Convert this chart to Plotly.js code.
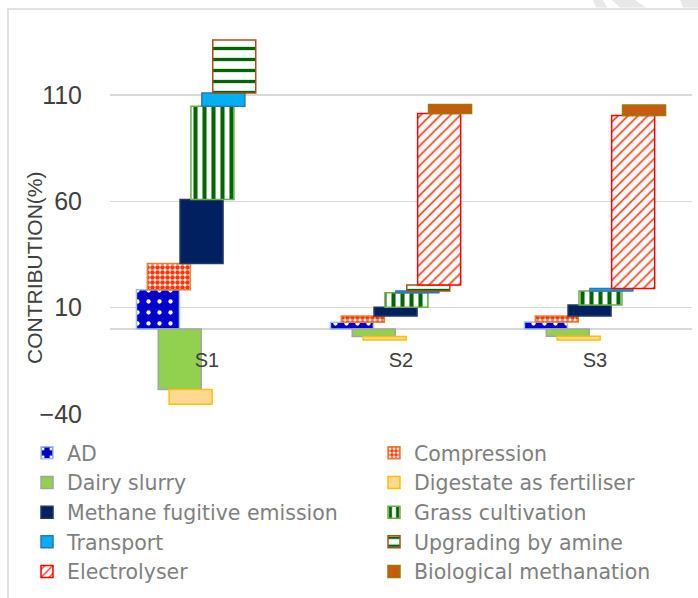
<!DOCTYPE html>
<html><head><meta charset="utf-8">
<script src="https://cdn.plot.ly/plotly-3.0.1.min.js"></script>
<style>html,body{margin:0;padding:0;background:#fff}#chart{width:698px;height:598px}</style>
</head><body><div id="chart"></div>
<script>
// ---- data ----
const categories = ['S1', 'S2', 'S3'];
const seriesNames = ['AD', 'Compression', 'Dairy slurry', 'Digestate as fertiliser',
  'Methane fugitive emission', 'Grass cultivation', 'Transport', 'Upgrading by amine',
  'Electrolyser', 'Biological methanation'];
const AD = [18.5, 3.2, 3.3];
const Compression = [12.3, 2.9, 2.8];
const DairySlurry = [-28.5, -3.5, -3.4];
const Digestate = [-6.9, -1.7, -1.8];
const MethaneFugitive = [30.1, 4.1, 5.2];
const GrassCultivation = [43.9, 6.8, 6.6];
const Transport = [6.3, 0.9, 1.1];
const UpgradingAmine = [24.9, 2.8, 0];
const Electrolyser = [0, 80.7, 81.4];
const BioMethanation = [0, 4.2, 5.0];
const seriesValues = [AD, Compression, DairySlurry, Digestate, MethaneFugitive,
  GrassCultivation, Transport, UpgradingAmine, Electrolyser, BioMethanation];
const yTickStart = -40, yTickStep = 50;

// ---- styles ----
const styles = [
  {color: '#0000cc', line: '#9dc3e6', pattern: {shape: '.', bgcolor: '#0000cc', fgcolor: '#ffffff', size: 11, solidity: 0.12}},
  {color: '#ff3300', line: '#ed7d31', pattern: {shape: '.', bgcolor: '#ffffff', fgcolor: '#ff3300', size: 5, solidity: 0.65}},
  {color: '#92d050', line: '#a5a5a5'},
  {color: '#ffd891', line: '#ffc000'},
  {color: '#002060', line: '#203864'},
  {color: '#006600', line: '#70ad47', pattern: {shape: '|', bgcolor: '#ffffff', fgcolor: '#006600', size: 9, solidity: 0.45}},
  {color: '#00b0f0', line: '#2e75b6'},
  {color: '#006600', line: '#a5511c', pattern: {shape: '-', bgcolor: '#ffffff', fgcolor: '#006600', size: 11, solidity: 0.3}},
  {color: '#ff2a00', line: '#ff0000', pattern: {shape: '/', bgcolor: '#ffffff', fgcolor: '#ff2a00', size: 7, solidity: 0.22}},
  {color: '#c55a11', line: '#9c7a00'}
];

// geometry (px)
const W = 698, H = 598, L = 110, R = 6, T = 10, B = 184;
const PW = W - L - R, PH = H - T - B;
const yMin = -40, yMax = 150.1;
const step = 0.0562, barW = 0.2216;
const px2x = px => (px - L) / PW;
const px2y = py => (T + PH - py) / PH;

// stacked bases: positives up from 0, negatives down from 0
const posCum = categories.map(() => 0);
const negCum = categories.map(() => 0);
const n = seriesNames.length;
const traces = seriesValues.map((vals, i) => {
  const base = [], y = [];
  vals.forEach((v, k) => {
    if (v >= 0) { base.push(posCum[k]); posCum[k] += v; }
    else { base.push(negCum[k]); negCum[k] += v; }
    y.push(v === 0 ? null : v);
  });
  const st = styles[i];
  const marker = {color: st.color, line: {color: st.line, width: 1.5}};
  if (st.pattern) marker.pattern = Object.assign({fillmode: 'replace'}, st.pattern);
  return {
    type: 'bar', name: seriesNames[i], x: categories, y: y, base: base,
    width: barW, offset: (i - (n - 1) / 2) * step - barW / 2,
    marker: marker, legendwidth: (i % 2 === 0) ? 302 : 260,
    hoverinfo: 'name+y'
  };
});

// light watermark stripes at the top-right corner (px polygons)
const stripePolys = [
  [[593, 0], [603, 0], [607, 7.5], [596, 7.5]],
  [[612, 0], [635, 0], [646, 7.5], [620, 7.5]],
  [[680, 0], [698, 0], [698, 7.5], [683, 7.5]]
];
const stripeShapes = stripePolys.map(p => ({
  type: 'path', xref: 'paper', yref: 'paper', layer: 'below',
  path: 'M' + p.map(q => px2x(q[0]) + ',' + px2y(q[1])).join('L') + 'Z',
  fillcolor: '#e8e8e8', line: {width: 0}
}));

const layout = {
  width: W, height: H,
  margin: {l: L, r: R, t: T, b: B, pad: 0},
  paper_bgcolor: '#ffffff', plot_bgcolor: '#ffffff',
  barmode: 'overlay',
  showlegend: true,
  font: {family: 'Liberation Sans, Arial, sans-serif', color: '#404040'},
  xaxis: {
    type: 'category', range: [-0.5, 2.5], anchor: 'free',
    position: (0 - yMin) / (yMax - yMin),
    showgrid: false, zeroline: false, showline: false, ticks: '',
    tickfont: {family: 'Liberation Sans, Arial, sans-serif', size: 20, color: '#404040'},
    ticklabelstandoff: 17, fixedrange: true
  },
  yaxis: {
    range: [yMin, yMax], tick0: yTickStart, dtick: yTickStep,
    showgrid: true, gridcolor: '#d9d9d9', gridwidth: 1.5,
    zeroline: true, zerolinecolor: '#d9d9d9', zerolinewidth: 1.5,
    showline: false, ticks: '',
    tickfont: {family: 'Liberation Sans, Arial, sans-serif', size: 25, color: '#404040'},
    ticklabelstandoff: 27, fixedrange: true
  },
  legend: {
    orientation: 'h', xref: 'paper', yref: 'paper',
    x: px2x(27), xanchor: 'left', y: px2y(433), yanchor: 'top',
    entrywidthmode: 'pixels', entrywidth: 302,
    font: {family: 'DejaVu Sans, sans-serif', size: 20.5, color: '#7f7f7f'},
    bgcolor: 'rgba(0,0,0,0)', traceorder: 'normal'
  },
  annotations: [{
    text: 'CONTRIBUTION(%)', textangle: -90, showarrow: false,
    xref: 'paper', yref: 'paper', x: px2x(34), y: px2y(268),
    xanchor: 'center', yanchor: 'middle',
    font: {family: 'Liberation Sans, Arial, sans-serif', size: 21, color: '#404040'}
  }],
  shapes: [{
    type: 'rect', xref: 'paper', yref: 'paper', layer: 'below',
    x0: px2x(8), x1: px2x(720), y0: px2y(620), y1: px2y(9),
    line: {color: '#d9d9d9', width: 1.5}, fillcolor: 'rgba(0,0,0,0)'
  }].concat(stripeShapes)
};

Plotly.newPlot('chart', traces, layout, {displayModeBar: false, staticPlot: true});
</script>
</body></html>
